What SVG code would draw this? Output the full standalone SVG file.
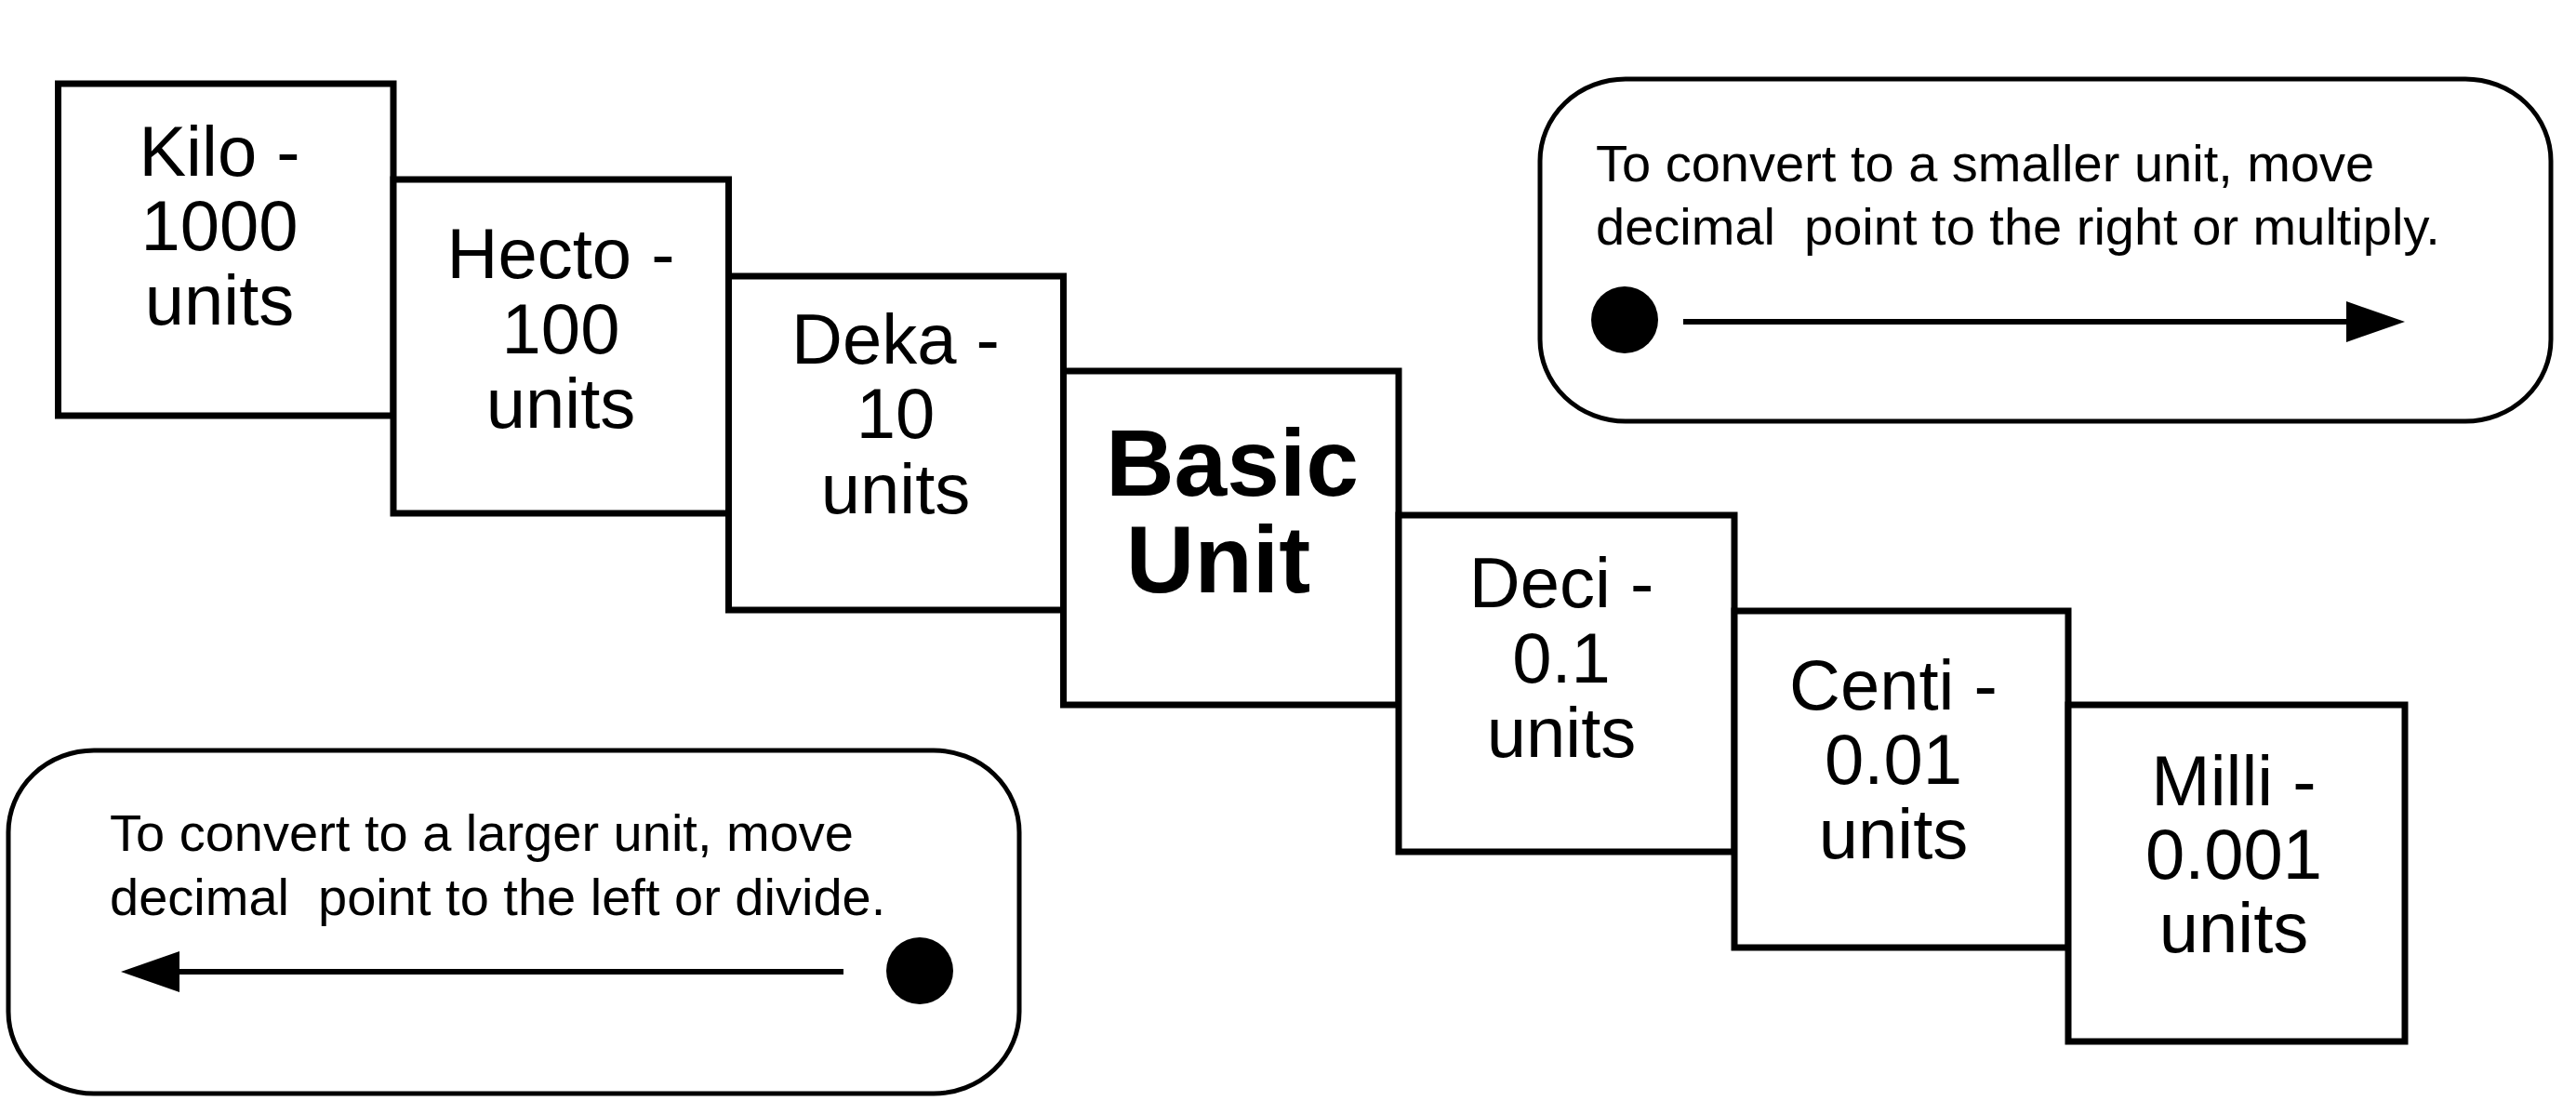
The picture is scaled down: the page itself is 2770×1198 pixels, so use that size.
<svg xmlns="http://www.w3.org/2000/svg" width="2770" height="1198" viewBox="0 0 2770 1198">
<style>
.box{fill:#fff;stroke:#000;stroke-width:7}
.callout{fill:#fff;stroke:#000;stroke-width:5}
.lbl{font-family:"Liberation Sans",Arial,Helvetica,sans-serif;font-size:76px;fill:#000;text-anchor:middle}
.big{font-family:"Liberation Sans",Arial,Helvetica,sans-serif;font-size:102px;font-weight:bold;fill:#000;text-anchor:middle}
.note{font-family:"Liberation Sans",Arial,Helvetica,sans-serif;font-size:56px;fill:#000;white-space:pre}
.arrow{stroke:#000;stroke-width:6;fill:none}
.dot{fill:#000}
</style>
<defs>
<marker id="head" markerUnits="userSpaceOnUse" markerWidth="64" markerHeight="46" viewBox="0 0 64 46" refX="1" refY="23" orient="auto">
<path d="M0,1 L63,23 L0,45 Z" fill="#000"/>
</marker>
</defs>
<rect width="2770" height="1198" fill="#fff"/>
<g id="kilo">
<rect class="box" x="62.5" y="90" width="360.5" height="357"/>
<text class="lbl" x="236" y="189">Kilo -</text>
<text class="lbl" x="236" y="269">1000</text>
<text class="lbl" x="236" y="349">units</text>
</g>
<g id="hecto">
<rect class="box" x="423" y="193" width="360.5" height="359"/>
<text class="lbl" x="603" y="299">Hecto -</text>
<text class="lbl" x="603" y="380">100</text>
<text class="lbl" x="603" y="460">units</text>
</g>
<g id="deka">
<rect class="box" x="783.5" y="297" width="360" height="359"/>
<text class="lbl" x="963" y="391">Deka -</text>
<text class="lbl" x="963" y="471">10</text>
<text class="lbl" x="963" y="552">units</text>
</g>
<g id="basic">
<rect class="box" x="1143.5" y="399" width="360.5" height="359"/>
<text class="big" x="1325" y="533">Basic</text>
<text class="big" x="1310" y="637">Unit</text>
</g>
<g id="deci">
<rect class="box" x="1504" y="554" width="361" height="362"/>
<text class="lbl" x="1679" y="653">Deci -</text>
<text class="lbl" x="1679" y="734">0.1</text>
<text class="lbl" x="1679" y="814">units</text>
</g>
<g id="centi">
<rect class="box" x="1865" y="657" width="359" height="362"/>
<text class="lbl" x="2036" y="763">Centi -</text>
<text class="lbl" x="2036" y="843">0.01</text>
<text class="lbl" x="2036" y="923">units</text>
</g>
<g id="milli">
<rect class="box" x="2224" y="758" width="362" height="362"/>
<text class="lbl" x="2402" y="866">Milli -</text>
<text class="lbl" x="2402" y="945">0.001</text>
<text class="lbl" x="2402" y="1024">units</text>
</g>
<g id="smaller-note">
<rect class="callout" x="1656" y="85" width="1087" height="368" rx="92" ry="88"/>
<text class="note" x="1716" y="195">To convert to a smaller unit, move</text>
<text class="note" x="1716" y="263">decimal  point to the right or multiply.</text>
<circle class="dot" cx="1747" cy="344" r="36"/>
</g>
<g id="larger-note">
<rect class="callout" x="9" y="807" width="1087" height="369" rx="92" ry="88"/>
<text class="note" x="118" y="915">To convert to a larger unit, move</text>
<text class="note" x="118" y="984">decimal  point to the left or divide.</text>
<circle class="dot" cx="989" cy="1044" r="36"/>
</g>
<g id="connectors">
<line class="arrow" x1="1810" y1="346" x2="2524" y2="346" marker-end="url(#head)"/>
<line class="arrow" x1="907" y1="1045" x2="192" y2="1045" marker-end="url(#head)"/>
</g>
</svg>
